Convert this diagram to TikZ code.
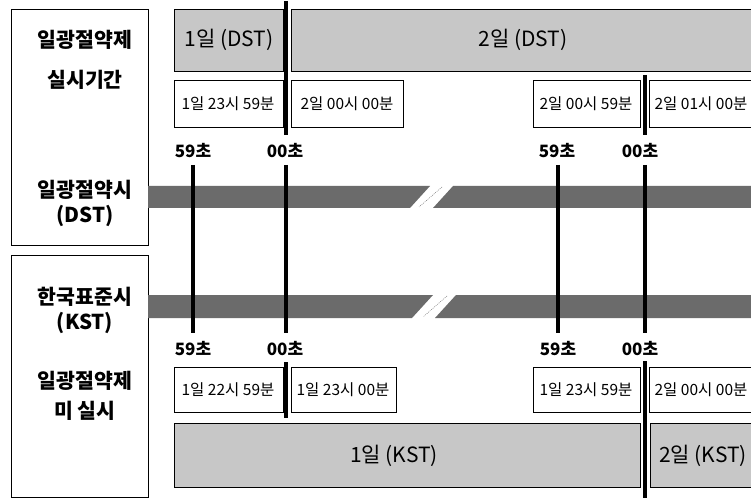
\documentclass[tikz,border=0pt]{standalone}
\usepackage{fontspec}
\setmainfont{Noto Sans CJK KR}
\begin{document}
\begin{tikzpicture}[x=1pt,y=-1pt,
  labelbox/.style={draw, line width=1.4pt, inner sep=0pt, anchor=north west},
  lightbar/.style={draw, line width=1pt, fill=black!22, inner sep=0pt, anchor=north west},
  timebox/.style={draw, line width=1pt, fill=white, inner sep=0pt, anchor=north west},
  band/.style={fill=black!58},
  tick/.style={line width=4pt},
  breakline/.style={line width=0.4pt, dash pattern=on 1pt off 1pt, black!60},
  lbl/.style={font=\fontsize{20.5}{22}\selectfont\bfseries, inner sep=0pt},
  barlbl/.style={font=\fontsize{21}{23}\selectfont, inner sep=0pt},
  tlbl/.style={font=\fontsize{15.5}{17}\selectfont, inner sep=0pt},
  sec/.style={font=\fontsize{17}{19}\selectfont\bfseries, inner sep=0pt}]
\useasboundingbox (0,0) rectangle (751,502);
% left label boxes
\node[labelbox, minimum width=137pt, minimum height=236pt] (lb1) at (11,9) {};
\node[labelbox, minimum width=137pt, minimum height=242pt] (lb2) at (11,255) {};
\node[lbl] (t1) at (85,40) {일광절약제};
\node[lbl] (t2) at (85,80) {실시기간};
\node[lbl] (t3) at (85,190) {일광절약시};
\node[lbl] (t4) at (85,216) {(DST)};
\node[lbl] (t5) at (85,297) {한국표준시};
\node[lbl] (t6) at (85,323) {(KST)};
\node[lbl] (t7) at (85,381) {일광절약제};
\node[lbl] (t8) at (85,411) {미 실시};
% top gray bars
\node[lightbar, minimum width=109pt, minimum height=62pt] (d1) at (174,9) {};
\node[lightbar, minimum width=470pt, minimum height=62pt] (d2) at (291,9) {};
\node[barlbl] (d1t) at (229,40) {1일 (DST)};
\node[barlbl] (d2t) at (523,40) {2일 (DST)};
% top time boxes
\node[timebox, minimum width=109pt, minimum height=47pt] (a1) at (174,80) {};
\node[timebox, minimum width=112pt, minimum height=47pt] (a2) at (291,80) {};
\node[timebox, minimum width=107pt, minimum height=47pt] (a3) at (533,80) {};
\node[timebox, minimum width=112pt, minimum height=47pt] (a4) at (649,80) {};
\node[tlbl] (a1t) at (228,104) {1일 23시 59분};
\node[tlbl] (a2t) at (347,104) {2일 00시 00분};
\node[tlbl] (a3t) at (586,104) {2일 00시 59분};
\node[tlbl] (a4t) at (701,104) {2일 01시 00분};
% bottom time boxes
\node[timebox, minimum width=109pt, minimum height=45pt] (b1) at (174,367) {};
\node[timebox, minimum width=105pt, minimum height=45pt] (b2) at (291,367) {};
\node[timebox, minimum width=107pt, minimum height=45pt] (b3) at (533,367) {};
\node[timebox, minimum width=112pt, minimum height=45pt] (b4) at (649,367) {};
\node[tlbl] (b1t) at (228,390) {1일 22시 59분};
\node[tlbl] (b2t) at (343,390) {1일 23시 00분};
\node[tlbl] (b3t) at (586,390) {1일 23시 59분};
\node[tlbl] (b4t) at (701,390) {2일 00시 00분};
% bottom gray bars
\node[lightbar, minimum width=466pt, minimum height=64pt] (k1) at (174,423) {};
\node[lightbar, minimum width=111pt, minimum height=64pt] (k2) at (650,423) {};
\node[barlbl] (k1t) at (394,456) {1일 (KST)};
\node[barlbl] (k2t) at (703,456) {2일 (KST)};
% bands
\fill[band] (148,186) -- (430,186) -- (410,208) -- (148,208) -- cycle;
\fill[band] (453,186) -- (761,186) -- (761,208) -- (433,208) -- cycle;
\draw[breakline] (442,187) -- (419,207);
\fill[band] (148,295) -- (433,295) -- (412,318) -- (148,318) -- cycle;
\fill[band] (456,295) -- (761,295) -- (761,318) -- (435,318) -- cycle;
\draw[breakline] (447,296) -- (423,317);
% second labels
\node[sec] (s1) at (193,151) {59초};
\node[sec] (s2) at (285,151) {00초};
\node[sec] (s3) at (557,151) {59초};
\node[sec] (s4) at (640,151) {00초};
\node[sec] (s5) at (193,349) {59초};
\node[sec] (s6) at (285,349) {00초};
\node[sec] (s7) at (558,349) {59초};
\node[sec] (s8) at (640,349) {00초};
% ticks
\coordinate (c1) at (286,1);
\coordinate (c2) at (286,135);
\draw[tick] (c1) -- (c2);
\coordinate (c3) at (645,75);
\coordinate (c4) at (645,135);
\draw[tick] (c3) -- (c4);
\coordinate (v1) at (193,165);
\coordinate (v2) at (193,333);
\draw[tick] (v1) -- (v2);
\coordinate (v3) at (286,165);
\coordinate (v4) at (286,333);
\draw[tick] (v3) -- (v4);
\coordinate (v5) at (558,165);
\coordinate (v6) at (558,333);
\draw[tick] (v5) -- (v6);
\coordinate (v7) at (645,165);
\coordinate (v8) at (645,333);
\draw[tick] (v7) -- (v8);
\coordinate (c5) at (286,362);
\coordinate (c6) at (286,418);
\draw[tick] (c5) -- (c6);
\coordinate (c7) at (645,361);
\coordinate (c8) at (645,498);
\draw[tick] (c7) -- (c8);
\end{tikzpicture}
\end{document}
